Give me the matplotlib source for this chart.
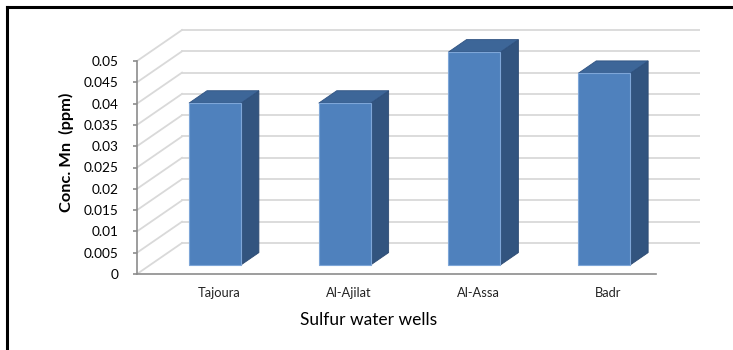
import numpy as np
import matplotlib
matplotlib.use("Agg")
import matplotlib.pyplot as plt
from matplotlib.patches import Polygon
from matplotlib.lines import Line2D

plt.rcParams['font.family'] = ['Lato', 'DejaVu Sans']

# Mn concentration per well
wells = ['Tajoura', 'Al-Ajilat', 'Al-Assa', 'Badr']
conc_mn = [0.038, 0.038, 0.050, 0.045]
yticks = [0, 0.005, 0.01, 0.015, 0.02, 0.025, 0.03, 0.035, 0.04, 0.045, 0.05]

# oblique depth offset of the 3D box (data units)
DX, DY = 0.347, 0.00728
F0, F1 = 0.29, 0.69   # front / back of bars as fraction of depth
BAR_W = 0.40

fig = plt.figure(figsize=(7.33, 3.5), dpi=100)
ax = fig.add_axes([137/733, 1 - 274/350, 563/733, 246/350])
ax.set_xlim(-0.5, -0.5 + 563/129.75)
ax.set_ylim(0, 246/4260)

grid_c = '#d9d9d9'
n = len(wells)
x0 = -0.5
x1 = n - 0.5

# side wall and back wall gridlines
for v in yticks:
    ax.plot([x0, x0 + DX], [v, v + DY], color=grid_c, lw=1.3, zorder=1)
    ax.plot([x0 + DX, x1 + DX], [v + DY, v + DY], color=grid_c, lw=1.3, zorder=1)

front_c = '#4f81bd'
top_c = '#3d6698'
side_c = '#32547f'
edge_c = '#7ea6d8'

for i, v in enumerate(conc_mn):
    b = F0 * DY
    xl = i + F0 * DX - BAR_W / 2
    xr = xl + BAR_W
    d = F1 - F0
    ox, oy = d * DX, d * DY
    side = Polygon([(xr, b), (xr, b + v), (xr + ox, b + v + oy), (xr + ox, b + oy)],
                   closed=True, facecolor=side_c, edgecolor='#2c4a72', lw=0.6, zorder=3)
    top = Polygon([(xl, b + v), (xr, b + v), (xr + ox, b + v + oy), (xl + ox, b + v + oy)],
                  closed=True, facecolor=top_c, edgecolor='#2f5281', lw=0.6, zorder=3)
    front = Polygon([(xl, b), (xr, b), (xr, b + v), (xl, b + v)],
                    closed=True, facecolor=front_c, edgecolor=edge_c, lw=0.8, zorder=4)
    ax.add_patch(side)
    ax.add_patch(top)
    ax.add_patch(front)

for s in ['top', 'right']:
    ax.spines[s].set_visible(False)
ax.spines['left'].set_bounds(0, 0.05)
ax.spines['bottom'].set_bounds(x0, x1)
for s in ['left', 'bottom']:
    ax.spines[s].set_color('#8c8c8c')
    ax.spines[s].set_linewidth(1.2)

ax.set_yticks(yticks)
ax.set_yticklabels(['0', '0.005', '0.01', '0.015', '0.02', '0.025', '0.03',
                    '0.035', '0.04', '0.045', '0.05'])
ax.tick_params(axis='y', direction='out', length=3, width=1.2, color='#8c8c8c',
               pad=10.5, labelsize=9.8, labelcolor='#000000')
ax.set_xticks([i + F0 * DX + 0.03 for i in range(n)])
ax.set_xticklabels(wells)
ax.tick_params(axis='x', length=0, pad=9.5, labelsize=9.3, labelcolor='#222222')

fig.text(66/733, 1 - 152/350, 'Conc. Mn  (ppm)', rotation=90, ha='center', va='center',
         fontsize=11.8, fontweight='bold')
fig.text(369/733, 1 - 320/350, 'Sulfur water wells', ha='center', va='center',
         fontsize=12.5)

# outer frame (top and left edges)
fig.add_artist(Line2D([7/733, 1], [1 - 7/350, 1 - 7/350], color='black', lw=2.2,
                      transform=fig.transFigure))
fig.add_artist(Line2D([7/733, 7/733], [0, 1 - 7/350], color='black', lw=2.2,
                      transform=fig.transFigure))

fig.savefig('out.png', dpi=100)
